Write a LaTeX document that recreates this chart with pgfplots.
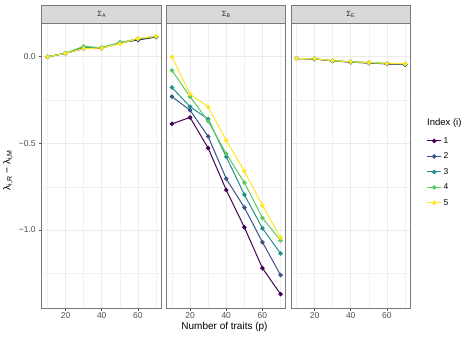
\documentclass[border=0pt]{standalone}
\usepackage{fontspec}
\setmainfont{Liberation Sans}
\usepackage{pgfplots}
\pgfplotsset{compat=1.18}

\definecolor{v1}{HTML}{440154}
\definecolor{v2}{HTML}{3B528B}
\definecolor{v3}{HTML}{21908C}
\definecolor{v4}{HTML}{5DC863}
\definecolor{v5}{HTML}{FDE725}
\definecolor{axgray}{HTML}{4D4D4D}
\definecolor{frame}{HTML}{7A7A7A}
\definecolor{stripfill}{HTML}{D9D9D9}
\definecolor{gridc}{HTML}{EBEBEB}

\tikzset{strip/.style={draw=frame, line width=1pt, fill=stripfill}}

\pgfplotsset{
  panel/.style={
    scale only axis, width=119.5pt, height=285pt,
    xmin=7, xmax=73, ymin=-1.45, ymax=0.195,
    xtick={20,40,60}, xticklabels={20,40,60},
    minor xtick={10,30,50,70},
    ytick={-1,-0.5,0}, minor ytick={-1.25,-0.75,-0.25},
    grid=both,
    major grid style={gridc, line width=0.6pt},
    minor grid style={gridc!70!white, line width=0.35pt},
    axis line style={frame, line width=1pt},
    xtick pos=bottom, ytick pos=left,
    tick align=outside, major tick length=2.8pt, minor tick length=0pt,
    tick style={axgray, line width=0.6pt},
    ticklabel style={font=\fontsize{8.5}{10}\selectfont, text=axgray},
    xticklabel style={yshift=1.5pt},
    clip=false,
    every axis plot/.append style={line width=1pt, mark=*, mark size=1.7pt},
    legend image code/.code={%
      \draw[mark repeat=2, mark phase=2] plot coordinates {(0pt,0pt) (7pt,0pt) (14pt,0pt)};},
  },
}

% facet strip with its label
\newcommand{\facetstrip}[1]{%
  \draw[strip] (rel axis cs:0,1) rectangle (rel axis cs:1,1.063);
  \node[font=\fontsize{7.5}{9}\selectfont, text=black!85] at (rel axis cs:0.5,1.0315) {#1};
}

\begin{document}
\begin{tikzpicture}[x=1pt,y=1pt]
\path[use as bounding box] (0,0) rectangle (474,338);

% Sigma_A
\begin{axis}[panel, at={(42pt,30pt)}, anchor=south west,
  yticklabels={−1.0,−0.5,0.0}]
\facetstrip{Σ\textsubscript{A}}
\addplot[v1] coordinates {(10,0.0) (20,0.02) (30,0.048) (40,0.050) (50,0.080) (60,0.097) (70,0.114)};
\addplot[v2] coordinates {(10,0.0) (20,0.02) (30,0.050) (40,0.051) (50,0.080) (60,0.100) (70,0.116)};
\addplot[v3] coordinates {(10,0.0) (20,0.02) (30,0.055) (40,0.052) (50,0.081) (60,0.102) (70,0.117)};
\addplot[v4] coordinates {(10,0.0) (20,0.021) (30,0.060) (40,0.053) (50,0.082) (60,0.104) (70,0.118)};
\addplot[v5] coordinates {(10,0.0) (20,0.02) (30,0.048) (40,0.050) (50,0.075) (60,0.105) (70,0.119)};
\end{axis}

% Sigma_B
\begin{axis}[panel, at={(166.5pt,30pt)}, anchor=south west,
  yticklabels={}, y tick style={draw=none}]
\facetstrip{Σ\textsubscript{B}}
\addplot[v1] coordinates {(10,-0.387) (20,-0.350) (30,-0.527) (40,-0.769) (50,-0.984) (60,-1.220) (70,-1.370)};
\addplot[v2] coordinates {(10,-0.230) (20,-0.308) (30,-0.460) (40,-0.704) (50,-0.870) (60,-1.070) (70,-1.260)};
\addplot[v3] coordinates {(10,-0.177) (20,-0.288) (30,-0.360) (40,-0.577) (50,-0.796) (60,-0.990) (70,-1.135)};
\addplot[v4] coordinates {(10,-0.079) (20,-0.230) (30,-0.371) (40,-0.560) (50,-0.726) (60,-0.930) (70,-1.060)};
\addplot[v5] coordinates {(10,0.000) (20,-0.215) (30,-0.290) (40,-0.483) (50,-0.660) (60,-0.858) (70,-1.044)};
\end{axis}

% Sigma_E
\begin{axis}[panel, at={(291pt,30pt)}, anchor=south west,
  yticklabels={}, y tick style={draw=none},
  legend style={at={(1.109,0.614)}, anchor=north west, draw=none, fill=none,
    font=\fontsize{8.5}{10}\selectfont, row sep=4.1pt,
    /tikz/every even column/.append style={column sep=3pt}},
  legend cell align=left]
\facetstrip{Σ\textsubscript{E}}
\addplot[v1] coordinates {(10,-0.010) (20,-0.013) (30,-0.024) (40,-0.031) (50,-0.036) (60,-0.041) (70,-0.045)};
\addplot[v2] coordinates {(10,-0.010) (20,-0.012) (30,-0.023) (40,-0.030) (50,-0.035) (60,-0.040) (70,-0.043)};
\addplot[v3] coordinates {(10,-0.010) (20,-0.012) (30,-0.023) (40,-0.029) (50,-0.034) (60,-0.039) (70,-0.042)};
\addplot[v4] coordinates {(10,-0.010) (20,-0.012) (30,-0.023) (40,-0.029) (50,-0.033) (60,-0.038) (70,-0.041)};
\addplot[v5] coordinates {(10,-0.010) (20,-0.012) (30,-0.022) (40,-0.029) (50,-0.033) (60,-0.038) (70,-0.040)};
\legend{1,2,3,4,5}
\end{axis}

% shared titles
\node[font=\fontsize{9.5}{11}\selectfont, anchor=west, inner sep=0pt] at (427,215) {Index (i)};
\node[font=\fontsize{10}{12}\selectfont] at (224.5,11.5) {Number of traits (p)};
\node[font=\fontsize{10}{12}\selectfont, rotate=90] at (8,168) {λ\textsubscript{i,R} − λ\textsubscript{i,M}};
\end{tikzpicture}
\end{document}
